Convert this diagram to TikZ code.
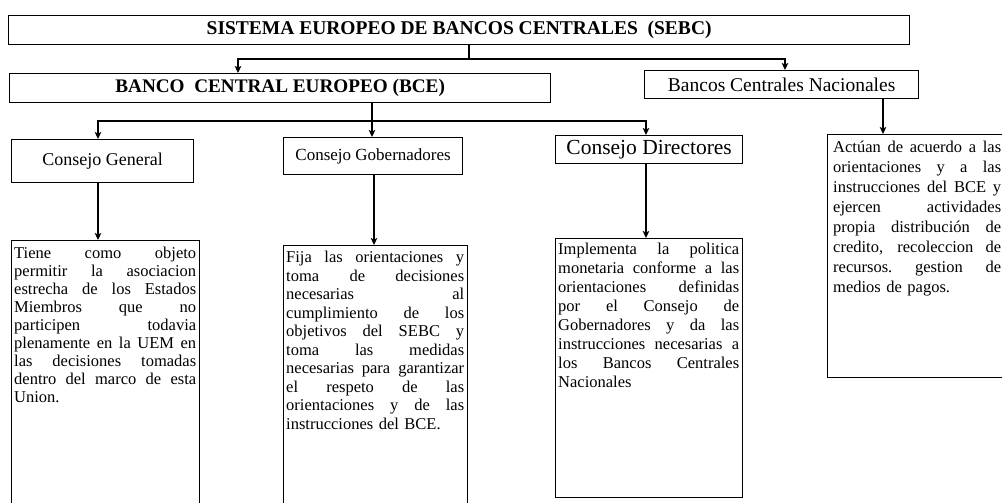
\documentclass[tikz,border=0pt]{standalone}
\usepackage{fontspec}
\setmainfont{Liberation Serif}
\usetikzlibrary{arrows.meta}
\setlength{\parindent}{0pt}
\newlength{\jwidth}
\newcommand{\jl}[1]{\makebox[\jwidth][s]{\spaceskip=0.25em plus 1fil\relax\xspaceskip=0.25em plus 1fil\relax #1}\\}
\begin{document}
\begin{tikzpicture}[x=1pt,y=-1pt,
  box/.style={draw, line width=1.3pt, inner sep=0pt, anchor=north west},
  txt/.style={inner sep=0pt, anchor=north west, align=left},
  link/.style={line width=1.2pt},
  arr/.style={line width=1.2pt, -{Stealth[length=7pt,width=6.5pt,inset=1.5pt]}},
]
\useasboundingbox (0,0) rectangle (1002,503);
\fill[white] (0,0) rectangle (1002,503);

% title boxes
\node[box, minimum width=901pt, minimum height=29pt, font=\bfseries\fontsize{19.5}{20}\selectfont] (sebc) at (8,15) {SISTEMA EUROPEO DE BANCOS CENTRALES~ (SEBC)};
\node[box, minimum width=541pt, minimum height=29pt, font=\bfseries\fontsize{19.2}{20}\selectfont] (bce) at (9,73) {BANCO~ CENTRAL EUROPEO (BCE)};
\node[box, minimum width=274pt, minimum height=28pt, font=\fontsize{19.5}{20}\selectfont] (bcn) at (644,70) {Bancos Centrales Nacionales};
\node[box, minimum width=182pt, minimum height=43pt, font=\fontsize{18}{20}\selectfont] (cg) at (11,139) {Consejo General};
\node[box, minimum width=179pt, minimum height=37pt, font=\fontsize{17}{20}\selectfont] (cgob) at (283,137) {Consejo Gobernadores};
\node[box, minimum width=187pt, minimum height=28pt, font=\fontsize{21.5}{22}\selectfont] (cdir) at (555,135) {Consejo Directores};

% description boxes
\node[box, minimum width=188pt, minimum height=275pt] (tiene) at (11,240) {};
\node[box, minimum width=184pt, minimum height=270pt] (fija) at (283,245) {};
\node[box, minimum width=187pt, minimum height=259pt] (impl) at (555,238) {};
\node[box, minimum width=180pt, minimum height=243pt] (actuan) at (827,134) {};

\node[txt, text width=182pt, font=\fontsize{16.5}{18}\selectfont] (tienetxt) at ([shift={(3,7)}]tiene.north west) {%
\setlength{\jwidth}{182pt}%
\jl{Tiene como objeto}%
\jl{permitir la asociacion}%
\jl{estrecha de los Estados}%
\jl{Miembros que no}%
\jl{participen todavia}%
\jl{plenamente en la UEM en}%
\jl{las decisiones tomadas}%
\jl{dentro del marco de esta}%
Union.};

\node[txt, text width=178pt, font=\fontsize{16.5}{18.5}\selectfont] (fijatxt) at ([shift={(3,6)}]fija.north west) {%
\setlength{\jwidth}{178pt}%
\jl{Fija las orientaciones y}%
\jl{toma de decisiones}%
\jl{necesarias al}%
\jl{cumplimiento de los}%
\jl{objetivos del SEBC y}%
\jl{toma las medidas}%
\jl{necesarias para garantizar}%
\jl{el respeto de las}%
\jl{orientaciones y de las}%
instrucciones del BCE.};

\node[txt, text width=181pt, font=\fontsize{16.5}{19}\selectfont] (impltxt) at ([shift={(3,5)}]impl.north west) {%
\setlength{\jwidth}{181pt}%
\jl{Implementa la politica}%
\jl{monetaria conforme a las}%
\jl{orientaciones definidas}%
\jl{por el Consejo de}%
\jl{Gobernadores y da las}%
\jl{instrucciones necesarias a}%
\jl{los Bancos Centrales}%
Nacionales};

\node[txt, text width=168pt, font=\fontsize{16.5}{20}\selectfont] (actuantxt) at ([shift={(6,7)}]actuan.north west) {%
\setlength{\jwidth}{168pt}%
\jl{Actúan de acuerdo a las}%
\jl{orientaciones y a las}%
\jl{instrucciones del BCE y}%
\jl{ejercen actividades}%
\jl{propia distribución de}%
\jl{credito, recoleccion de}%
\jl{recursos. gestion de}%
medios de pagos.};

% connectors
\coordinate (j1) at (469,59);
\coordinate (j2) at (372,121);
\draw[link] (sebc.south -| j1) -- (j1);
\draw[arr] (j1) -| (bce.north -| 238,0);
\draw[arr] (j1) -| (bcn.north -| 785,0);
\draw[arr] (bce.south -| j2) -- (cgob.north -| j2);
\draw[arr] (j2) -| (cg.north -| 98,0);
\draw[arr] (j2) -| (cdir.north -| 646,0);
\draw[arr] (cg.south -| 98,0) -- (tiene.north -| 98,0);
\draw[arr] (cgob.south -| 374,0) -- (fija.north -| 374,0);
\draw[arr] (cdir.south -| 646,0) -- (impl.north -| 646,0);
\draw[arr] (bcn.south -| 883,0) -- (actuan.north -| 883,0);
\end{tikzpicture}
\end{document}
